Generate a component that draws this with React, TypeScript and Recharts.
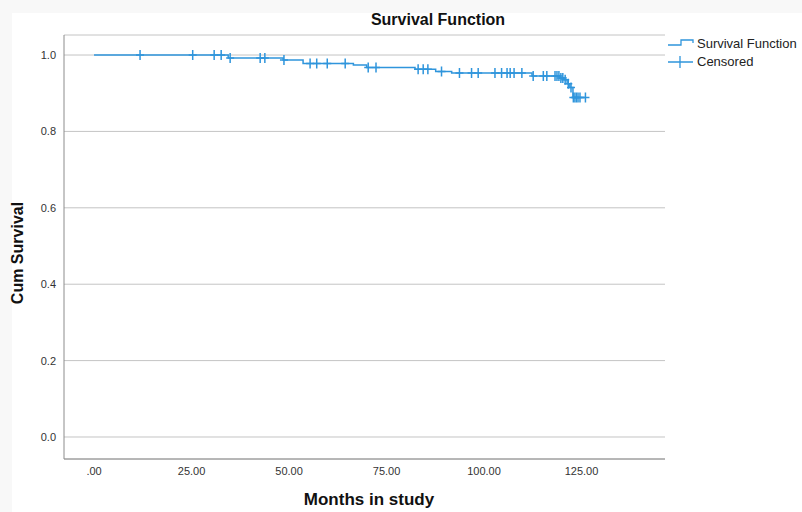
import React from 'react';
import { ComposedChart, Line, Scatter, XAxis, YAxis, CartesianGrid } from 'recharts';

// Kaplan-Meier step points (month, cumulative survival)
const stepTimes = [0, 34.4, 48.5, 53.6, 66.5, 69.9, 82.3, 87.6, 91.7, 112.3, 119.5, 120.5, 121.3, 122.0, 122.8, 126.0];
const stepSurv = [1.0, 0.992, 0.987, 0.978, 0.974, 0.967, 0.963, 0.957, 0.953, 0.945, 0.94, 0.935, 0.925, 0.915, 0.889, 0.889];

// censored observations (months)
const censorTimes = [
  11.8, 25.3, 30.8, 32.6, 34.9, 42.6, 43.8, 48.7, 55.4, 57.1, 59.8, 64.4, 70.3, 72.3,
  83.1, 84.4, 85.6, 89.1, 93.7, 96.8, 98.5, 102.8, 104.5, 105.9, 106.7, 107.7, 109.7,
  112.6, 115.2, 116.1, 118.2, 118.7, 119.2, 119.7, 120.2, 120.8, 121.6, 122.3, 122.9,
  123.3, 123.7, 124.1, 124.6, 126.0,
];

const xTicks = [0, 25, 50, 75, 100, 125];
const yTicks = [0, 0.2, 0.4, 0.6, 0.8, 1.0];

const BLUE = '#2f95dc';
const FONT = '"Liberation Sans", Arial, sans-serif';

const survivalAt = (t: number) => {
  let s = stepSurv[0];
  stepTimes.forEach((st, i) => {
    if (st <= t) s = stepSurv[i];
  });
  return s;
};

const curveData = stepTimes.map((time, i) => ({ time, surv: stepSurv[i] }));
const censorData = censorTimes.map((time) => ({ time, surv: survivalAt(time) }));

const Cross = (props: any) => {
  const { cx, cy } = props;
  return (
    <path
      d={`M${cx - 4},${cy} L${cx + 4},${cy} M${cx},${cy - 5} L${cx},${cy + 5}`}
      stroke={BLUE}
      strokeWidth={1.5}
      fill="none"
    />
  );
};

const fmtX = (v: number) => (v === 0 ? '.00' : v.toFixed(2));

export default function App() {
  return (
    <div style={{ position: 'absolute', left: 0, top: 0, width: 802, height: 512, background: '#f8f8f8', fontFamily: FONT }}>
      <div style={{ position: 'absolute', left: 12, top: 13, width: 790, height: 499, background: '#fff' }} />
      <div style={{ position: 'absolute', left: 0, top: 0 }}>
        {/* x axis keeps its 30px height below the plot, so bottom margin is 53 - 30 */}
        <ComposedChart width={802} height={512} margin={{ top: 35, right: 137, bottom: 23, left: 0 }}>
          <CartesianGrid vertical={false} stroke="#c4c4c4" strokeWidth={1} />
          <XAxis
            type="number"
            dataKey="time"
            domain={[-7.7, 146.4]}
            ticks={xTicks}
            tickFormatter={fmtX}
            allowDataOverflow
            tickLine={false}
            axisLine={{ stroke: '#8c8c8c' }}
            tick={{ fontSize: 11, fill: '#333', fontFamily: FONT }}
          />
          <YAxis
            type="number"
            dataKey="surv"
            width={64}
            domain={[-0.0576, 1.0524]}
            ticks={yTicks}
            tickFormatter={(v: number) => v.toFixed(1)}
            allowDataOverflow
            tickLine={false}
            axisLine={{ stroke: '#8c8c8c' }}
            tick={{ fontSize: 11, fill: '#333', fontFamily: FONT }}
          />
          <Line
            data={curveData}
            dataKey="surv"
            type="stepAfter"
            stroke={BLUE}
            strokeWidth={1.5}
            dot={false}
            isAnimationActive={false}
          />
          <Scatter data={censorData} dataKey="surv" shape={<Cross />} isAnimationActive={false} />
        </ComposedChart>
      </div>

      <div style={{ position: 'absolute', left: 288, top: 11, width: 300, textAlign: 'center', fontSize: 16, fontWeight: 'bold', color: '#111' }}>
        Survival Function
      </div>
      <div
        style={{
          position: 'absolute',
          left: 18,
          top: 253,
          transform: 'translate(-50%, -50%) rotate(-90deg)',
          whiteSpace: 'nowrap',
          fontSize: 16,
          fontWeight: 'bold',
          color: '#111',
        }}
      >
        Cum Survival
      </div>
      <div style={{ position: 'absolute', left: 219, top: 490, width: 300, textAlign: 'center', fontSize: 17, fontWeight: 'bold', color: '#111' }}>
        Months in study
      </div>

      <svg style={{ position: 'absolute', left: 660, top: 34 }} width={40} height={36}>
        <path d="M8,11 L21,11 L21,6 L33,6 L33,9" stroke={BLUE} strokeWidth={1.3} fill="none" />
        <path d="M8,28 L33,28 M20,22 L20,34" stroke={BLUE} strokeWidth={1.3} fill="none" />
      </svg>
      <div style={{ position: 'absolute', left: 697, top: 36, fontSize: 13, color: '#222', lineHeight: '16px' }}>Survival Function</div>
      <div style={{ position: 'absolute', left: 697, top: 54, fontSize: 13, color: '#222', lineHeight: '16px' }}>Censored</div>
    </div>
  );
}
